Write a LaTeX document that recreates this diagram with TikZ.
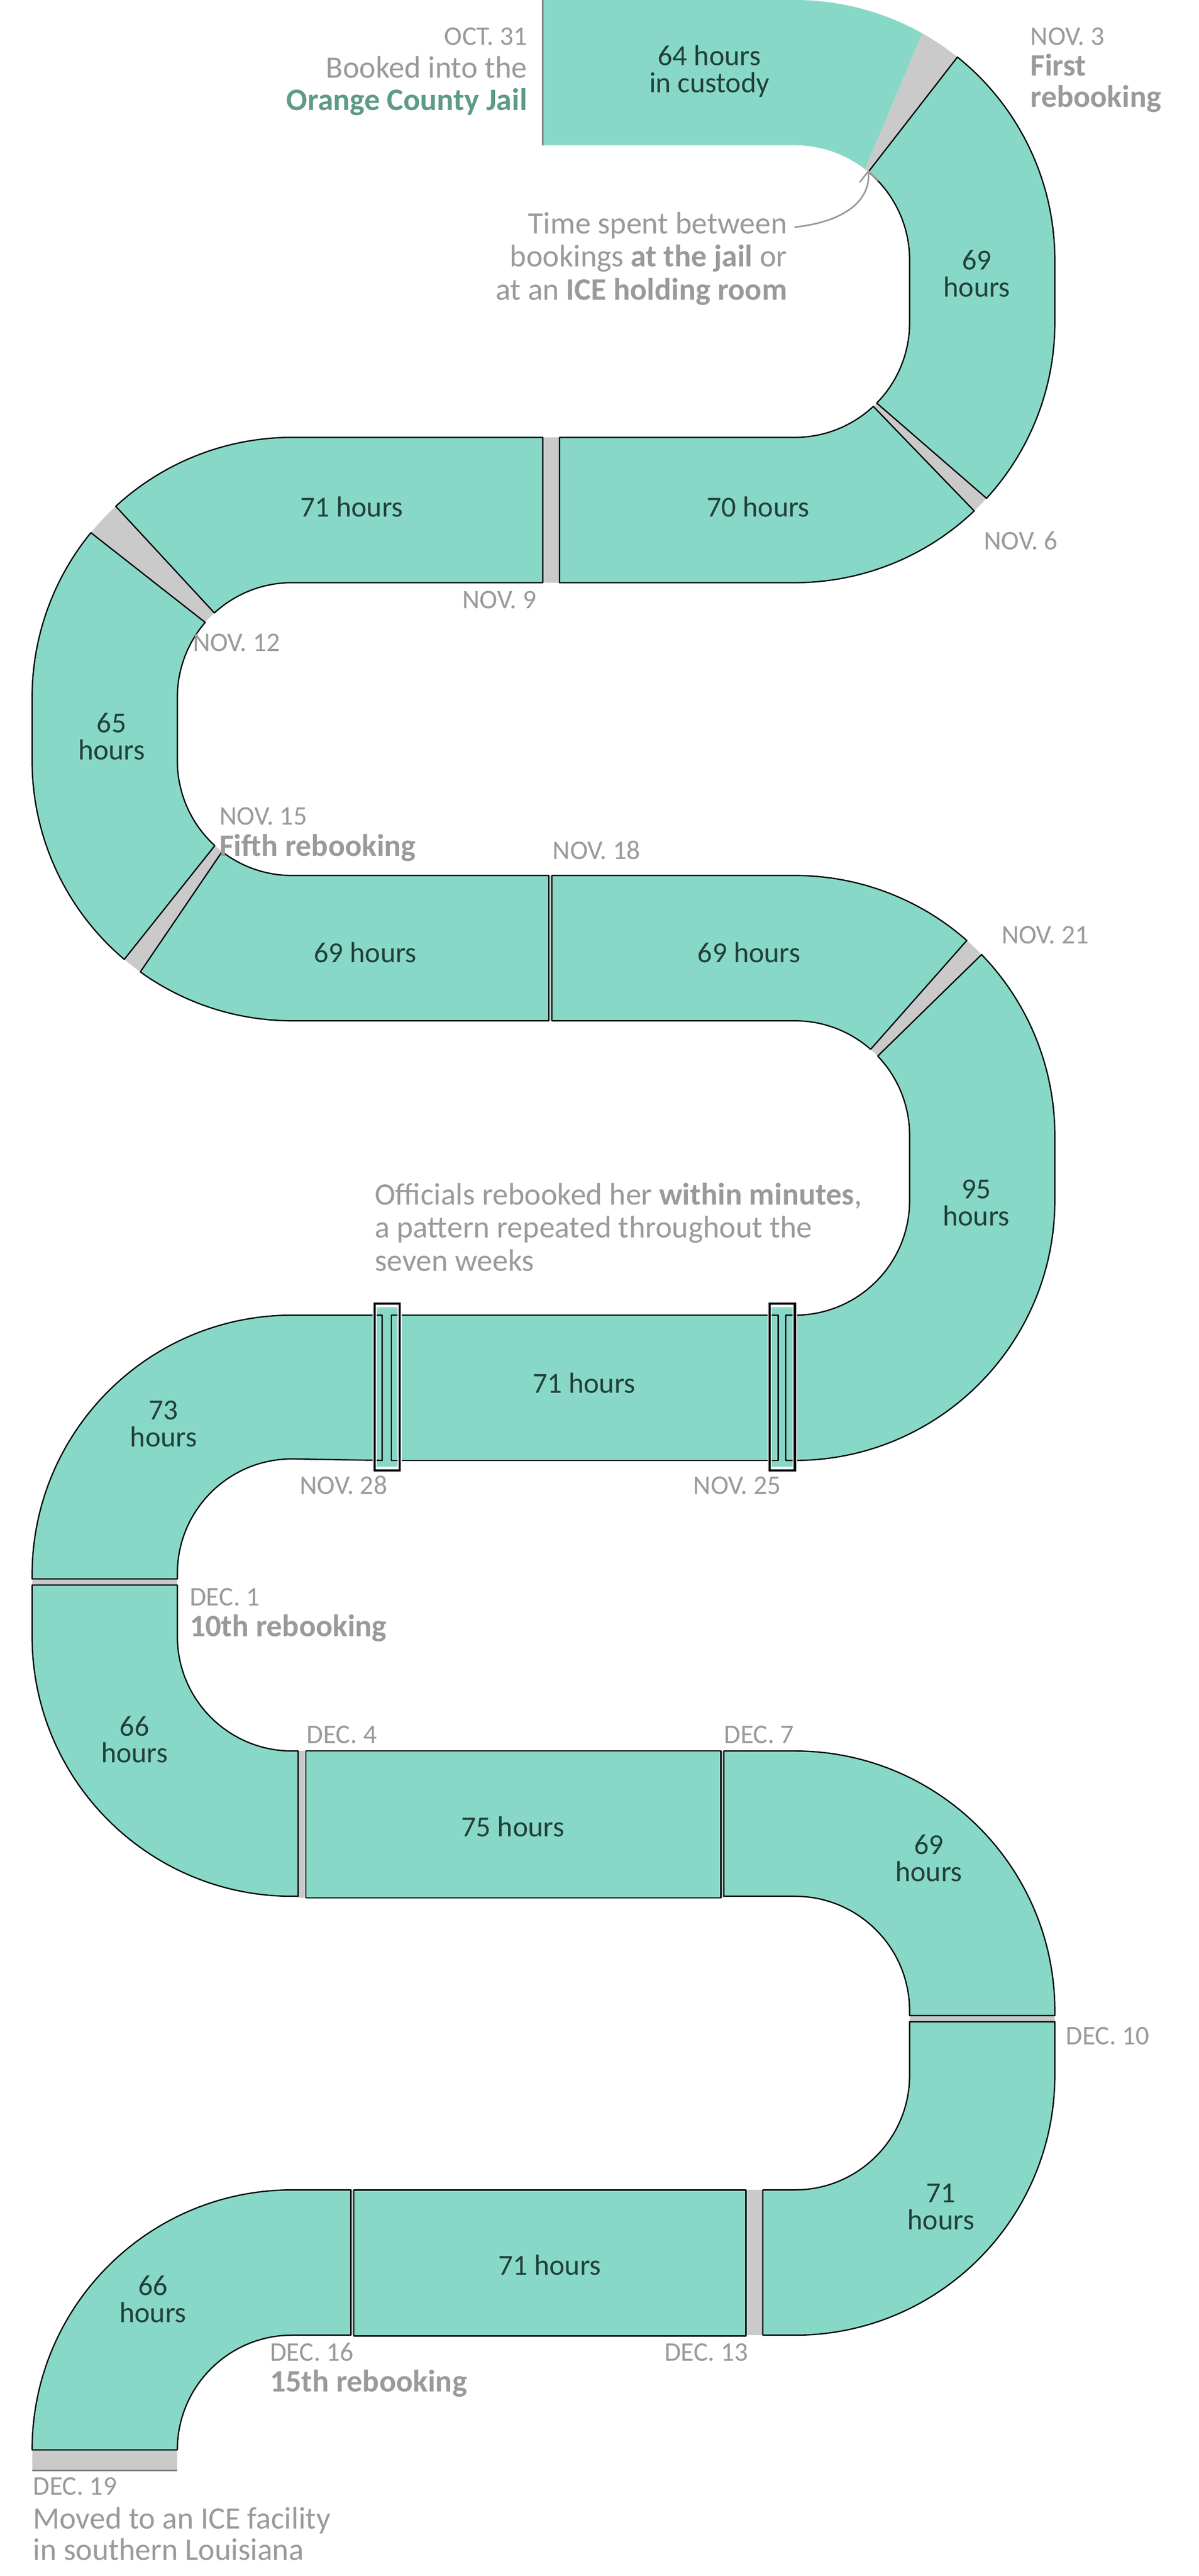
\documentclass[tikz,border=0pt]{standalone}
\usepackage{fontspec}
\setmainfont{Carlito}
\usetikzlibrary{arrows.meta}
\definecolor{teal}{HTML}{88D8C8}
\definecolor{gap}{HTML}{CACACA}
\definecolor{lg}{HTML}{9A9A9A}
\definecolor{hrsc}{HTML}{22403A}
\definecolor{jail}{HTML}{5E9A88}
\newcommand\Pt[4]{({#1+(#3)*cos(#4)},{#2+(#3)*sin(#4)})}
\tikzset{
 seg/.style={fill=teal,draw=black,line width=1.2pt,line join=round},
 gp/.style={fill=gap},
 hrs/.style={font=\fontsize{27}{25}\selectfont,text=hrsc,align=center,inner sep=0},
 dt/.style={font=\fontsize{25}{26}\selectfont,text=lg,inner sep=0,anchor=base west},
 dtb/.style={font=\bfseries\fontsize{29}{30}\selectfont,text=lg,inner sep=0,anchor=base west},
 ann/.style={font=\fontsize{29}{30}\selectfont,text=lg,inner sep=0},
 box/.style={draw=white,line width=4pt},
 boxi/.style={draw=black,line width=2.2pt}
}
\begin{document}
\begin{tikzpicture}[x=0.025cm,y=-0.025cm]
\useasboundingbox[fill=white] (0,0) rectangle (1568,3369);
% gaps
\fill[gp] \Pt{1040}{340}{340}{-60.7} arc[start angle=-60.7,end angle=-51.3,radius=340] -- \Pt{1040}{340}{150}{-50.2} arc[start angle=-50.2,end angle=-52.4,radius=150] -- cycle;
\fill[gp] \Pt{1040}{422}{340}{42.5} arc[start angle=42.5,end angle=46.4,radius=340] -- \Pt{1040}{422}{150}{46.9} arc[start angle=46.9,end angle=44.5,radius=150] -- cycle;
\fill[gp] (710,572) rectangle (732,762);
\fill[gp] \Pt{382}{912}{340}{-132.7} arc[start angle=-132.7,end angle=-140.7,radius=340] -- \Pt{382}{912}{150}{-139.2} arc[start angle=-139.2,end angle=-132.6,radius=150] -- cycle;
\fill[gp] \Pt{382}{995}{340}{130.2} arc[start angle=130.2,end angle=125.7,radius=340] -- \Pt{382}{995}{150}{127.6} arc[start angle=127.6,end angle=132.3,radius=150] -- cycle;
\fill[gp] (718,1145) rectangle (722,1335);
\fill[gp] \Pt{1040}{1485}{340}{-48.6} arc[start angle=-48.6,end angle=-44.1,radius=340] -- \Pt{1040}{1485}{150}{-43.8} arc[start angle=-43.8,end angle=-48.7,radius=150] -- cycle;
\fill[teal] (490,1710) rectangle (522,1918);
\fill[teal] (1007,1710) rectangle (1040,1918);
\fill[gp] (42,2065) rectangle (232,2073);
\fill[gp] (390,2290) rectangle (400,2482);
\fill[gp] (943,2290) rectangle (947,2482);
\fill[gp] (1190,2636) rectangle (1380,2644);
\fill[gp] (976,2864) rectangle (998,3054);
\fill[gp] (459,2864) rectangle (463,3054);
\fill[gp] (42,3204) rectangle (232,3231);
% segments
\fill[teal] (710,0) -- (1040,0) arc[start angle=-90,end angle=-60.7,radius=340] -- \Pt{1040}{340}{150}{-52.4} arc[start angle=-52.4,end angle=-90,radius=150] -- (710,190) -- cycle;
\draw[lg!80!black,line width=1.2pt] (710,0) -- (710,190);
\draw[seg] \Pt{1040}{340}{340}{-51.3} arc[start angle=-51.3,end angle=0,radius=340] -- (1380,422) arc[start angle=0,end angle=42.5,radius=340] -- \Pt{1040}{422}{150}{44.5} arc[start angle=44.5,end angle=0,radius=150] -- (1190,340) arc[start angle=0,end angle=-50.2,radius=150] -- cycle;
\draw[seg] \Pt{1040}{422}{340}{46.4} arc[start angle=46.4,end angle=90,radius=340] -- (732,762) -- (732,572) -- (1040,572) arc[start angle=90,end angle=46.9,radius=150] -- cycle;
\draw[seg] (710,572) -- (382,572) arc[start angle=-90,end angle=-132.7,radius=340] -- \Pt{382}{912}{150}{-132.6} arc[start angle=-132.6,end angle=-90,radius=150] -- (710,762) -- cycle;
\draw[seg] \Pt{382}{912}{340}{-140.7} arc[start angle=-140.7,end angle=-180,radius=340] -- (42,995) arc[start angle=180,end angle=130.2,radius=340] -- \Pt{382}{995}{150}{132.3} arc[start angle=132.3,end angle=180,radius=150] -- (232,912) arc[start angle=180,end angle=220.8,radius=150] -- cycle;
\draw[seg] \Pt{382}{995}{340}{125.7} arc[start angle=125.7,end angle=90,radius=340] -- (718,1335) -- (718,1145) -- (382,1145) arc[start angle=90,end angle=127.6,radius=150] -- cycle;
\draw[seg] (722,1145) -- (1040,1145) arc[start angle=-90,end angle=-48.6,radius=340] -- \Pt{1040}{1485}{150}{-48.7} arc[start angle=-48.7,end angle=-90,radius=150] -- (722,1335) -- cycle;
\draw[seg] \Pt{1040}{1485}{340}{-44.1} arc[start angle=-44.1,end angle=0,radius=340] -- (1380,1570) arc[start angle=0,end angle=90,radius=340] -- (1028,1910) -- (1028,1720) -- (1040,1720) arc[start angle=90,end angle=0,radius=150] -- (1190,1485) arc[start angle=0,end angle=-43.8,radius=150] -- cycle;
\draw[seg] (512,1720) rectangle (1018,1910);
\draw[seg] (500,1720) -- (382,1720) arc[start angle=-90,end angle=-180,radius=340] -- (42,2065) -- (232,2065) -- (232,2058) arc[start angle=180,end angle=270,radius=150] -- (500,1910) -- cycle;
\draw[seg] (42,2073) -- (42,2140) arc[start angle=180,end angle=90,radius=340] -- (390,2480) -- (390,2290) -- (382,2290) arc[start angle=90,end angle=180,radius=150] -- (232,2073) -- cycle;
\draw[seg] (400,2290) rectangle (943,2482);
\draw[seg] (947,2290) -- (1040,2290) arc[start angle=-90,end angle=0,radius=340] -- (1380,2636) -- (1190,2636) -- (1190,2630) arc[start angle=0,end angle=-90,radius=150] -- (947,2480) -- cycle;
\draw[seg] (1380,2644) -- (1380,2714) arc[start angle=0,end angle=90,radius=340] -- (998,3054) -- (998,2864) -- (1040,2864) arc[start angle=90,end angle=0,radius=150] -- (1190,2644) -- cycle;
\draw[seg] (463,2864) rectangle (976,3055);
\draw[seg] (459,2864) -- (382,2864) arc[start angle=-90,end angle=-180,radius=340] -- (232,3204) arc[start angle=180,end angle=270,radius=150] -- (459,3054) -- cycle;
\draw[lg!80!black,line width=1.2pt] (42,3231) -- (232,3231);
% boxes
\foreach \x in {490,1007}{
 \draw[box] (\x,1705) rectangle ++(33,218);
 \draw[boxi] (\x,1705) rectangle ++(33,218);}
% hours labels
\node[hrs] (h1) at (928,93) {64 hours\\in custody};
\node[hrs] (h2) at (1278,358) {69\\hours};
\node[hrs] (h3) at (992,663) {70 hours};
\node[hrs] (h4) at (460,663) {71 hours};
\node[hrs] (h5) at (146,963) {65\\hours};
\node[hrs] (h6) at (478,1246) {69 hours};
\node[hrs] (h7) at (980,1246) {69 hours};
\node[hrs] (h8) at (1277,1573) {95\\hours};
\node[hrs] (h9) at (764,1809) {71 hours};
\node[hrs] (h10) at (214,1862) {73\\hours};
\node[hrs] (h11) at (176,2275) {66\\hours};
\node[hrs] (h12) at (671,2389) {75 hours};
\node[hrs] (h13) at (1215,2430) {69\\hours};
\node[hrs] (h14) at (1231,2886) {71\\hours};
\node[hrs] (h15) at (719,2962) {71 hours};
\node[hrs] (h16) at (200,3007) {66\\hours};
% date labels
\node[dt,anchor=base east] (oct31) at (690,59) {OCT. 31};
\node[ann,anchor=base east] (bk1) at (690,102) {Booked into the};
\node[ann,anchor=base east,text=jail,font=\bfseries\fontsize{29}{30}\selectfont] (bk2) at (690,144) {Orange County Jail};
\node[dt] (n3) at (1348,59) {NOV. 3};
\node[dtb] (n3a) at (1348,99) {First};
\node[dtb] (n3b) at (1348,140) {rebooking};
\node[dt] (n6) at (1287,719) {NOV. 6};
\node[dt,anchor=base east] (n9) at (702,796) {NOV. 9};
\node[dt] (n12) at (252,852) {NOV. 12};
\node[dt] (n15) at (287,1079) {NOV. 15};
\node[dtb] (n15a) at (287,1120) {Fifth rebooking};
\node[dt] (n18) at (723,1124) {NOV. 18};
\node[dt] (n21) at (1310,1234) {NOV. 21};
\node[dt] (n28) at (392,1954) {NOV. 28};
\node[dt] (n25) at (907,1954) {NOV. 25};
\node[dt] (d1) at (248,2100) {DEC. 1};
\node[dtb] (d1a) at (248,2140) {10th rebooking};
\node[dt] (d4) at (401,2280) {DEC. 4};
\node[dt] (d7) at (947,2280) {DEC. 7};
\node[dt] (d10) at (1394,2674) {DEC. 10};
\node[dt] (d16) at (353,3088) {DEC. 16};
\node[dtb] (d16a) at (353,3128) {15th rebooking};
\node[dt] (d13) at (869,3088) {DEC. 13};
\node[dt] (d19) at (43,3263) {DEC. 19};
\node[ann,anchor=base west] (mv1) at (43,3307) {Moved to an ICE facility};
\node[ann,anchor=base west] (mv2) at (43,3348) {in southern Louisiana};
% annotations
\node[ann,anchor=base east] (t1) at (1030,306) {Time spent between};
\node[ann,anchor=base east] (t2) at (1030,349) {bookings \textbf{at the jail} or};
\node[ann,anchor=base east] (t3) at (1030,392) {at an \textbf{ICE holding room}};
\coordinate (tip) at (1136,224);
\coordinate (tail) at (1040,297);
\draw[lg,line width=1.5pt,line cap=round,line join=round] (tail) .. controls (1105,290) and (1140,262) .. (tip) (tip) -- ++(-11,14) (tip) -- ++(13,12);
\node[ann,anchor=base west] (o1) at (490,1576) {Officials rebooked her \textbf{within minutes},};
\node[ann,anchor=base west] (o2) at (490,1619) {a pattern repeated throughout the};
\node[ann,anchor=base west] (o3) at (490,1662) {seven weeks};
\end{tikzpicture}
\end{document}
